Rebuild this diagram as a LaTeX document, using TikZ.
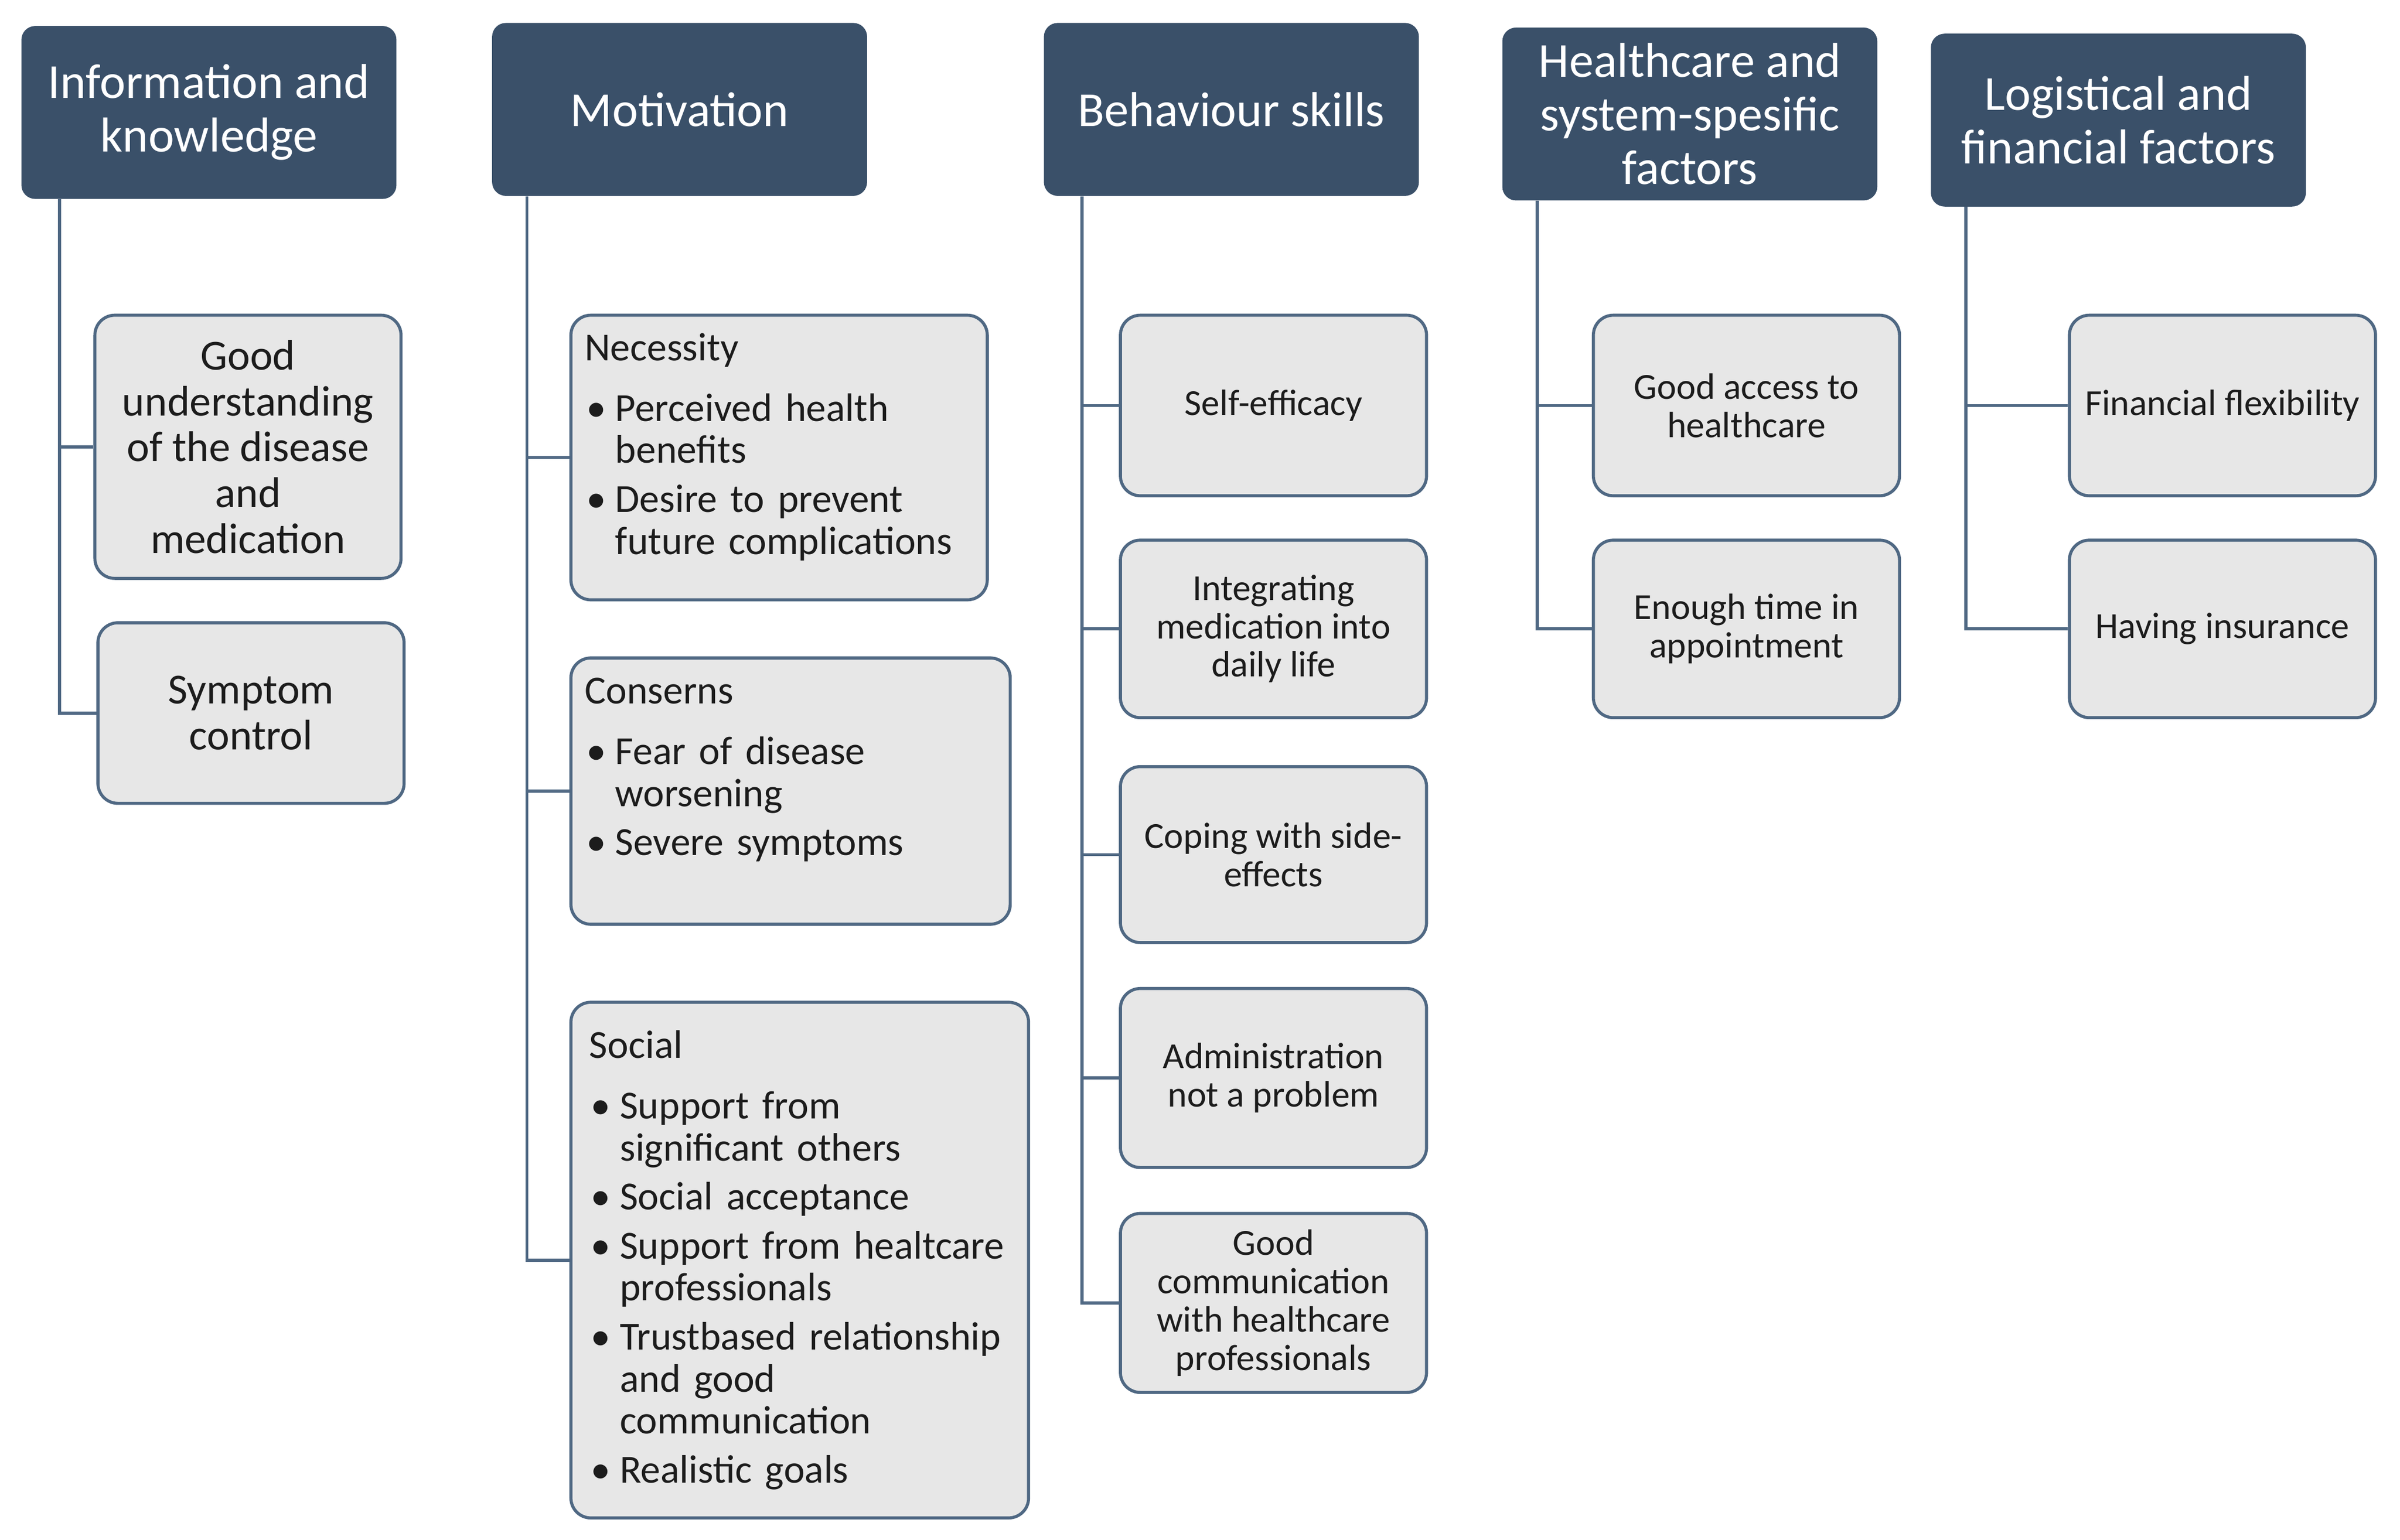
\documentclass[tikz,border=0pt]{standalone}
\usepackage{fontspec}
\setmainfont{Carlito}
\definecolor{hdrblue}{HTML}{3A5069}
\definecolor{boxline}{HTML}{4F6883}
\definecolor{boxfill}{HTML}{E7E7E7}
\definecolor{boxtext}{HTML}{1C1C1C}
\newcommand{\blt}{\makebox[20pt][l]{\hspace{1pt}\textbullet}}
\newcommand{\bcont}{\hspace*{20pt}}
\begin{document}
\begin{tikzpicture}[x=1pt, y=-1pt,
  hdr/.style={fill=hdrblue, rounded corners=9pt, text=white, align=center, minimum width=245pt, minimum height=113pt, inner sep=2pt, font=\fontsize{32}{35}\selectfont},
  leaf/.style={draw=boxline, line width=2pt, fill=boxfill, rounded corners=13pt, text=boxtext, align=center, minimum width=200pt, inner sep=4pt},
  big/.style={font=\fontsize{28}{30}\selectfont},
  small/.style={font=\fontsize{24}{25}\selectfont},
  listbox/.style={leaf, align=left, inner xsep=9pt, font=\fontsize{26}{27.5}\selectfont},
  link/.style={draw=boxline, line width=2pt}]
\useasboundingbox (0,0) rectangle (1568,1006.4);
\node [hdr] (info) at (136.5,73.5) {Information and\\knowledge};
\node [hdr] (motiv) at (444,71.5) {Motivation};
\node [hdr] (behav) at (804.5,71.5) {Behaviour skills};
\node [hdr] (health) at (1104,74.5) {Healthcare and\\system-spesific\\factors};
\node [hdr] (logist) at (1384,78.5) {Logistical and\\financial factors};
\node [leaf, big, minimum height=172pt] (underst) at (162,292) {Good\\understanding\\of the disease\\and\\medication};
\node [leaf, big, minimum height=118pt] (symptom) at (164,466) {Symptom\\control};
\node [listbox, text width=254pt, minimum height=186pt] (necess) at (509,299) {Necessity\\[12pt]\blt Perceived health\\\bcont benefits\\[4.5pt]\blt Desire to prevent\\\bcont future complications\\[-9.5pt]\mbox{}};
\node [listbox, text width=269pt, minimum height=174pt] (concern) at (516.5,517) {Conserns\\[12pt]\blt Fear of disease\\\bcont worsening\\[4.5pt]\blt Severe symptoms\\[4.5pt]\mbox{}};
\node [listbox, inner xsep=12pt, text width=275pt, minimum height=337pt] (social) at (522.5,823.5) {Social\\[12pt]\blt Support from\\\bcont significant others\\[4.5pt]\blt Social acceptance\\[4.5pt]\blt Support from healtcare\\\bcont professionals\\[4.5pt]\blt Trustbased relationship\\\bcont and good\\\bcont communication\\[4.5pt]\blt Realistic goals};
\node [leaf, small, minimum height=118pt] (selfeff) at (832,265) {Self-efficacy};
\node [leaf, small, minimum height=116pt] (integr) at (832,411) {Integrating\\medication into\\daily life};
\node [leaf, small, minimum height=115pt] (coping) at (832,558.5) {Coping with side-\\effects};
\node [leaf, small, minimum height=117pt] (admin) at (832,704.5) {Administration\\not a problem};
\node [leaf, small, minimum height=117pt] (commun) at (832,851.5) {Good\\communication\\with healthcare\\professionals};
\node [leaf, small, minimum height=118pt] (access) at (1141,265) {Good access to\\healthcare};
\node [leaf, small, minimum height=116pt] (apptime) at (1141,411) {Enough time in\\appointment};
\node [leaf, small, minimum height=118pt] (finflex) at (1452,265) {Financial flexibility};
\node [leaf, small, minimum height=116pt] (insur) at (1452,411) {Having insurance};
\draw [link] ([xshift=25pt]info.south west) |- (underst.west);
\draw [link] ([xshift=25pt]info.south west) |- (symptom.west);
\draw [link] ([xshift=23pt]motiv.south west) |- (necess.west);
\draw [link] ([xshift=23pt]motiv.south west) |- (concern.west);
\draw [link] ([xshift=23pt]motiv.south west) |- (social.west);
\draw [link] ([xshift=25pt]behav.south west) |- (selfeff.west);
\draw [link] ([xshift=25pt]behav.south west) |- (integr.west);
\draw [link] ([xshift=25pt]behav.south west) |- (coping.west);
\draw [link] ([xshift=25pt]behav.south west) |- (admin.west);
\draw [link] ([xshift=25pt]behav.south west) |- (commun.west);
\draw [link] ([xshift=23pt]health.south west) |- (access.west);
\draw [link] ([xshift=23pt]health.south west) |- (apptime.west);
\draw [link] ([xshift=23pt]logist.south west) |- (finflex.west);
\draw [link] ([xshift=23pt]logist.south west) |- (insur.west);
\end{tikzpicture}
\end{document}
